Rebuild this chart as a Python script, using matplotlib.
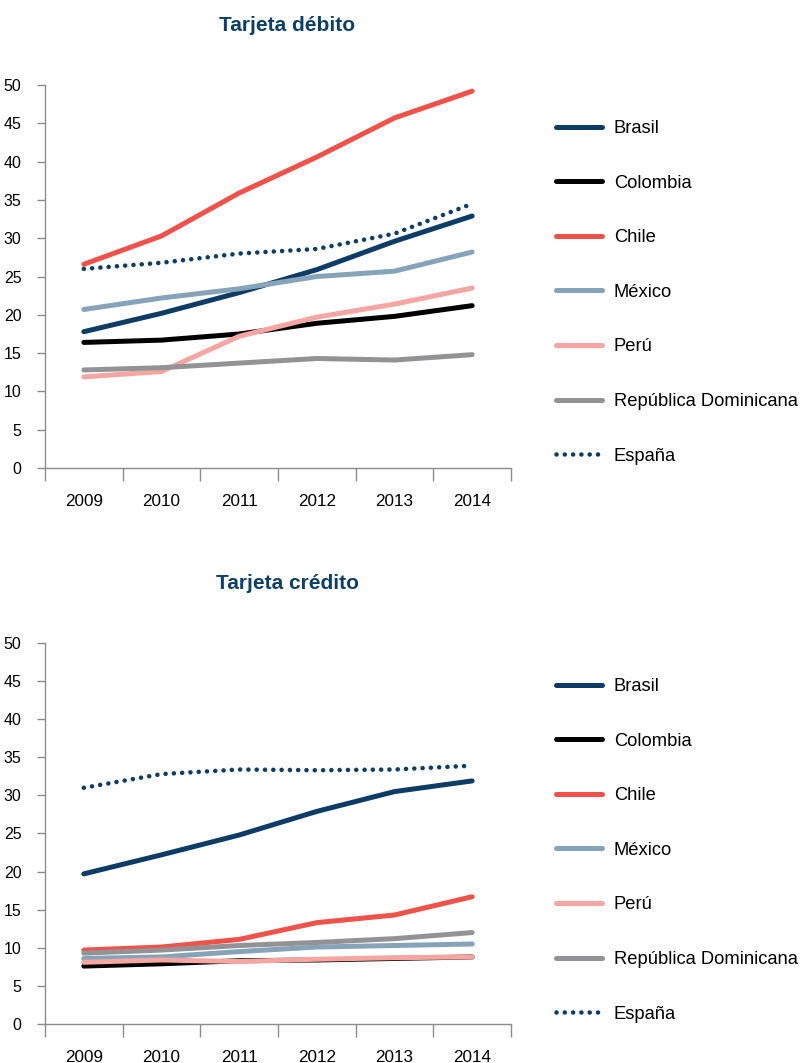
import matplotlib.pyplot as plt

plt.rcParams['font.family'] = ['Liberation Sans', 'DejaVu Sans']

years = ['2009', '2010', '2011', '2012', '2013', '2014']
paises = ['Brasil', 'Colombia', 'Chile', 'México', 'Perú',
          'República Dominicana', 'España']

# tarjeta debito
deb_brasil = [17.8, 20.2, 22.9, 25.9, 29.6, 32.9]
deb_colombia = [16.4, 16.7, 17.5, 18.9, 19.8, 21.2]
deb_chile = [26.6, 30.3, 35.9, 40.6, 45.7, 49.2]
deb_mexico = [20.7, 22.2, 23.4, 25.0, 25.7, 28.2]
deb_peru = [11.9, 12.6, 17.2, 19.7, 21.4, 23.5]
deb_repdom = [12.8, 13.1, 13.7, 14.3, 14.1, 14.8]
deb_espana = [26.0, 26.8, 28.0, 28.6, 30.6, 34.5]

# tarjeta credito
cred_brasil = [19.7, 22.2, 24.8, 27.9, 30.5, 31.9]
cred_colombia = [7.6, 7.9, 8.3, 8.4, 8.6, 8.8]
cred_chile = [9.7, 10.1, 11.1, 13.3, 14.3, 16.7]
cred_mexico = [8.6, 8.8, 9.5, 10.1, 10.3, 10.5]
cred_peru = [8.1, 8.4, 8.2, 8.5, 8.7, 8.8]
cred_repdom = [9.3, 9.7, 10.3, 10.7, 11.2, 12.0]
cred_espana = [31.0, 32.8, 33.4, 33.3, 33.4, 33.9]

colores = ['#0d3d66', '#000000', '#f0524a', '#86a3ba', '#f5a6a2',
           '#939396', '#0d3d66']
titulo_color = '#0d3f6b'

debito = [deb_brasil, deb_colombia, deb_chile, deb_mexico, deb_peru,
          deb_repdom, deb_espana]
credito = [cred_brasil, cred_colombia, cred_chile, cred_mexico, cred_peru,
           cred_repdom, cred_espana]

fig = plt.figure(figsize=(8.02, 10.63), dpi=100)


def panel(rect, series, titulo, title_y):
    ax = fig.add_axes(rect)
    x = range(len(years))
    for vals, nombre, c in zip(series, paises, colores):
        if nombre == 'España':
            ax.plot(x, vals, color=c, lw=3.3, linestyle=(0, (0.01, 1.8)),
                    dash_capstyle='round', label=nombre)
        else:
            ax.plot(x, vals, color=c, lw=3.6, solid_capstyle='round',
                    label=nombre)
    ax.set_xlim(-0.5, 5.5)
    ax.set_ylim(0, 50)
    ax.set_yticks(range(0, 51, 5))
    ax.set_xticks(list(x))
    ax.set_xticklabels(years)
    ax.set_xticks([i - 0.5 for i in range(7)], minor=True)
    ax.tick_params(axis='x', which='major', length=0, pad=19, labelsize=12.3)
    ax.tick_params(axis='x', which='minor', length=9, width=1, color='#8c8c8c',
                   direction='out')
    ax.tick_params(axis='y', length=6, width=1, color='#8c8c8c', pad=11,
                   labelsize=11.5)
    for s in ['top', 'right']:
        ax.spines[s].set_visible(False)
    for s in ['left', 'bottom']:
        ax.spines[s].set_color('#8c8c8c')
        ax.spines[s].set_linewidth(1)
    fig.text(0.358, title_y, titulo, ha='center', va='center', fontsize=15,
             fontweight='bold', color=titulo_color)
    ax.legend(loc='upper left', bbox_to_anchor=(0.6933, rect[1] + rect[3] - 0.033),
              bbox_transform=fig.transFigure, frameon=False, fontsize=13.2,
              handlelength=2.5, handletextpad=0.65, labelspacing=2.05,
              borderpad=0, borderaxespad=0)
    return ax


panel([0.0561, 0.5597, 0.5810, 0.3603], debito, 'Tarjeta débito', 0.976)
panel([0.0561, 0.0367, 0.5810, 0.3584], credito, 'Tarjeta crédito', 0.451)

fig.savefig('out.png', dpi=100)
